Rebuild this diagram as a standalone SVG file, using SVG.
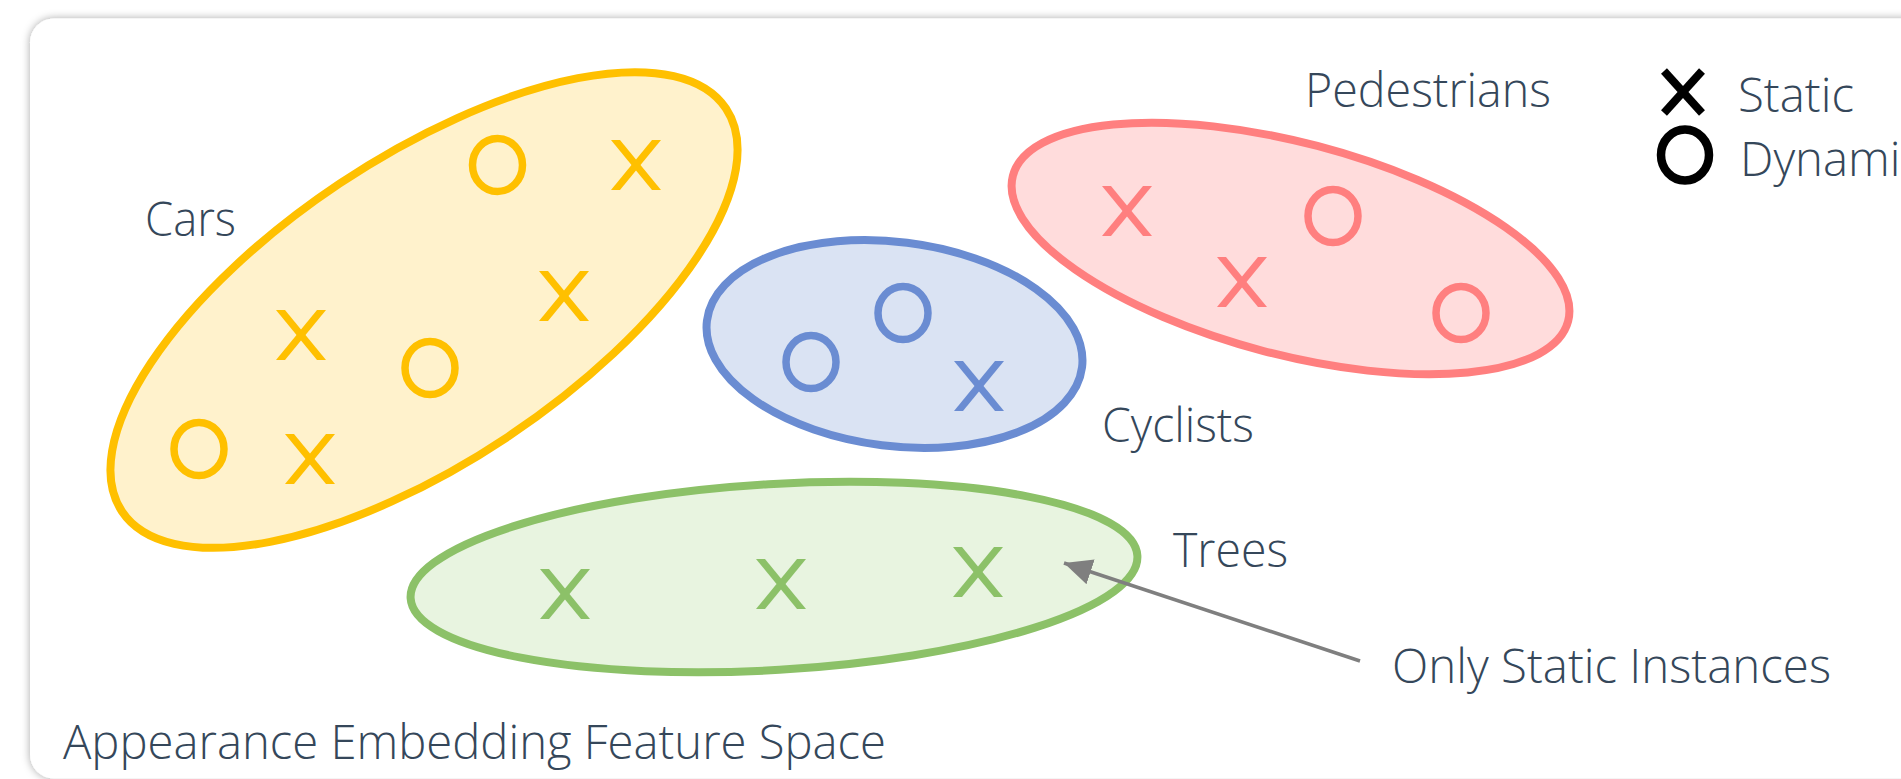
<svg xmlns="http://www.w3.org/2000/svg" width="1901" height="779" viewBox="0 0 1901 779">
  <defs>
    <filter id="cardShadow" x="-5%" y="-10%" width="110%" height="120%">
      <feDropShadow dx="0" dy="0" stdDeviation="4" flood-color="#000" flood-opacity="0.35"/>
    </filter>
    <!-- cross marker: two slanted bars with flat horizontal ends -->
    <symbol id="cross" overflow="visible">
      <polygon points="-25,-25 -16,-25 25,25 16,25"/>
      <polygon points="16,-25 25,-25 -16,25 -25,25"/>
    </symbol>
    <marker id="arrowHead" markerUnits="userSpaceOnUse" markerWidth="30" markerHeight="30" viewBox="0 0 30 30" refX="28" refY="15" orient="auto">
      <path d="M0,2 L28,15 L0,28 Z" fill="#7F7F7F"/>
    </marker>
    <style>
      .lbl { font-family: "Open Sans", Lato, "Liberation Sans", sans-serif; font-weight: 300; font-size: 47px; fill: #35475A; }
      .cars { fill: #FFF2CC; stroke: #FFC000; stroke-width: 8; }
      .cyc { fill: #DAE3F3; stroke: #6A8CD2; stroke-width: 8; }
      .ped { fill: #FFDCDC; stroke: #FF7F7F; stroke-width: 8; }
      .tree { fill: #E8F4E0; stroke: #8CC168; stroke-width: 8; }
      .y { fill: #FFC000; } .yo { fill: none; stroke: #FFC000; stroke-width: 7.5; }
      .b { fill: #6A8CD2; } .bo { fill: none; stroke: #6A8CD2; stroke-width: 7.5; }
      .r { fill: #FF7F7F; } .ro { fill: none; stroke: #FF7F7F; stroke-width: 7.5; }
      .g { fill: #8CC168; }
    </style>
  </defs>

  <!-- background card -->
  <rect x="30" y="18.5" width="1920" height="760" rx="24" ry="24" fill="#FFFFFF" filter="url(#cardShadow)"/>

  <!-- Cars cluster -->
  <g id="cars">
    <ellipse class="cars" cx="424" cy="310" rx="363" ry="152" transform="rotate(-33.7 424 310)"/>
    <ellipse class="yo" cx="497.5" cy="165" rx="25" ry="26.5"/>
    <use href="#cross" class="y" x="636" y="165"/>
    <use href="#cross" class="y" x="564" y="296"/>
    <use href="#cross" class="y" x="301" y="335"/>
    <ellipse class="yo" cx="430" cy="368" rx="25" ry="26.5"/>
    <ellipse class="yo" cx="199" cy="449" rx="25" ry="26.5"/>
    <use href="#cross" class="y" x="310" y="459"/>
    <text class="lbl" x="145" y="236" textLength="91" lengthAdjust="spacingAndGlyphs">Cars</text>
  </g>

  <!-- Trees cluster -->
  <g id="trees">
    <ellipse class="tree" cx="774" cy="577" rx="364" ry="93" transform="rotate(-3.35 774 577)"/>
    <use href="#cross" class="g" x="565" y="594"/>
    <use href="#cross" class="g" x="781" y="584"/>
    <use href="#cross" class="g" x="978" y="572"/>
    <text class="lbl" x="1173" y="567" textLength="115" lengthAdjust="spacingAndGlyphs">Trees</text>
  </g>

  <!-- Cyclists cluster -->
  <g id="cyclists">
    <ellipse class="cyc" cx="894.5" cy="344" rx="189" ry="102" transform="rotate(7.1 894.5 344)"/>
    <ellipse class="bo" cx="903" cy="313" rx="25" ry="26.5"/>
    <ellipse class="bo" cx="811" cy="362" rx="25" ry="26.5"/>
    <use href="#cross" class="b" x="979" y="386"/>
    <text class="lbl" x="1102" y="442" textLength="152" lengthAdjust="spacingAndGlyphs">Cyclists</text>
  </g>

  <!-- Pedestrians cluster -->
  <g id="pedestrians">
    <ellipse class="ped" cx="1290.5" cy="248.5" rx="287" ry="106" transform="rotate(14.7 1290.5 248.5)"/>
    <use href="#cross" class="r" x="1127" y="211"/>
    <ellipse class="ro" cx="1333" cy="216" rx="25" ry="26.5"/>
    <use href="#cross" class="r" x="1242" y="282"/>
    <ellipse class="ro" cx="1461" cy="313" rx="25" ry="26.5"/>
    <text class="lbl" x="1305" y="107" textLength="246" lengthAdjust="spacingAndGlyphs">Pedestrians</text>
  </g>

  <!-- legend -->
  <g id="legend">
    <g stroke="#000" stroke-width="8" fill="none">
      <line x1="1664" y1="71" x2="1702" y2="113"/>
      <line x1="1702" y1="71" x2="1664" y2="113"/>
      <ellipse cx="1685" cy="155" rx="24" ry="25.5" stroke-width="8.5"/>
    </g>
    <text class="lbl" x="1738" y="112" textLength="116" lengthAdjust="spacingAndGlyphs">Static</text>
    <text class="lbl" x="1740" y="176" textLength="183" lengthAdjust="spacingAndGlyphs">Dynamic</text>
  </g>

  <!-- annotation -->
  <g id="note">
    <text class="lbl" x="1392" y="683" textLength="439" lengthAdjust="spacingAndGlyphs">Only Static Instances</text>
  </g>

  <g id="caption">
    <text class="lbl" x="63" y="759" textLength="823" lengthAdjust="spacingAndGlyphs">Appearance Embedding Feature Space</text>
  </g>

  <!-- connectors -->
  <g id="connectors">
    <line x1="1360" y1="661" x2="1064" y2="563" stroke="#7F7F7F" stroke-width="3.5" marker-end="url(#arrowHead)"/>
  </g>
</svg>
